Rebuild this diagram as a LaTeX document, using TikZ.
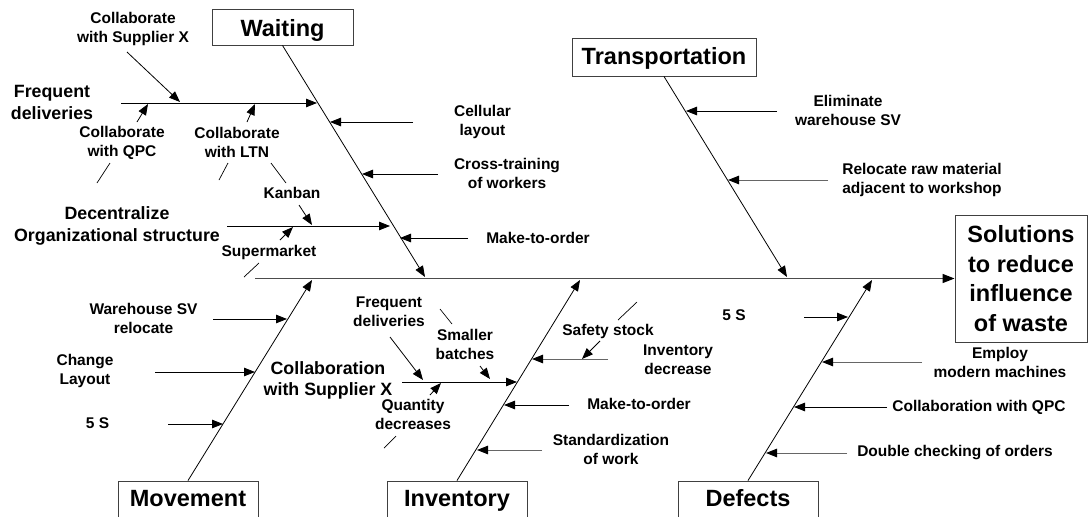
\documentclass[tikz,border=0pt]{standalone}
\usepackage{fontspec}
\setmainfont{Liberation Sans}
\usetikzlibrary{arrows.meta}
\tikzset{
  lbl/.style={font=\fontsize{15.5}{19}\selectfont\bfseries, align=center, inner sep=0pt},
  big/.style={font=\fontsize{17.8}{21.5}\selectfont\bfseries, align=center, inner sep=0pt},
  ttlbase/.style={draw=black!75, line width=0.9pt, fill=white, font=\fontsize{23.5}{29.5}\selectfont\bfseries, align=center, inner sep=0pt},
  ttl/.style={ttlbase, text height=17pt, text depth=5pt},
  bone/.style={draw=black, line width=0.8pt, -{Triangle[length=11pt,width=8.5pt]}},
  spine/.style={draw=black!70, line width=1.4pt, -{Triangle[length=12pt,width=9pt,black]}},
  arr/.style={draw=black, line width=0.8pt, -{Triangle[length=11pt,width=8.5pt]}},
  garr/.style={draw=black!60, line width=1pt, -{Triangle[length=11pt,width=8.5pt,black]}},
  stray/.style={draw=black, line width=0.7pt},
}
\begin{document}
\begin{tikzpicture}[x=1pt,y=-1pt]
\clip (0,0) rectangle (1088,517);
\fill[white] (0,0) rectangle (1088,517);

% ---- title boxes ----
\node[ttl, text height=19.5pt, text depth=0.5pt, minimum width=141pt, minimum height=36pt] (waiting) at (282.5,27) {Waiting};
\node[ttl, text height=17.5pt, text depth=3.5pt, minimum width=184pt, minimum height=38pt] (transp) at (664,57) {Transportation};
\node[ttl, minimum width=140pt, minimum height=38pt] (movement) at (188,500) {Movement};
\node[ttl, minimum width=140pt, minimum height=38pt] (inventory) at (457,500) {Inventory};
\node[ttl, minimum width=140pt, minimum height=38pt] (defects) at (748,500) {Defects};
\node[ttlbase, minimum width=132pt, minimum height=127pt] (sol) at (1021,278.5) {Solutions\\to reduce\\influence\\of waste};

% ---- spine ----
\coordinate (sp0) at (255,278.5);
\draw[spine] (sp0) -- (sol.west);

% ---- main bones ----
\coordinate (wtip) at (425,277);
\coordinate (ttip) at (787,277);
\coordinate (mtip) at (312,280);
\coordinate (itip) at (580,280);
\coordinate (dtip) at (872,280);
\draw[bone] (waiting.south) -- (wtip);
\draw[bone] (transp.south) -- (ttip);
\draw[bone] (movement.north) -- (mtip);
\draw[bone] (inventory.north) -- (itip);
\draw[bone] (defects.north) -- (dtip);

% ---- Waiting: labels ----
\node[lbl] (cwsx) at (133,28.5) {Collaborate\\with Supplier X};
\node[big] (fdel) at (52,102.5) {Frequent\\deliveries};
\node[lbl] (cqpc) at (122,142.5) {Collaborate\\with QPC};
\node[lbl] (cltn) at (237,142.5) {Collaborate\\with LTN};
\node[lbl] (kanban) at (292,193) {Kanban};
\node[big] (decen) at (117,226) {Decentralize\\Organizational structure};
\node[lbl] (superm) at (269,252) {Supermarket};
\node[lbl] (cell) at (482.5,122) {Cellular\\layout};
\node[lbl] (cross) at (507,173) {Cross-training\\of workers};
\node[lbl] (mto1) at (538,238) {Make-to-order};

% Waiting: sub-bone Frequent deliveries
\coordinate (fd0) at (121,103);
\coordinate (fd1) at (317,103);
\draw[arr] (fd0) -- (fd1);
\coordinate (a2) at (127,52);   \coordinate (b2) at (180,102);
\draw[arr] (a2) -- (b2);
\coordinate (a3) at (137,122);  \coordinate (b3) at (148,104);
\draw[arr] (a3) -- (b3);
\coordinate (a4) at (247,122);  \coordinate (b4) at (255,104);
\draw[arr] (a4) -- (b4);
\coordinate (s1a) at (97,183);  \coordinate (s1b) at (110,163);
\draw[stray] (s1a) -- (s1b);
\coordinate (s2a) at (219,180); \coordinate (s2b) at (228,163);
\draw[stray] (s2a) -- (s2b);
\coordinate (s3a) at (271,163); \coordinate (s3b) at (286,183);
\draw[stray] (s3a) -- (s3b);

% Waiting: sub-bone Decentralize
\coordinate (dc0) at (227,226);
\coordinate (dc1) at (390,226);
\draw[arr] (dc0) -- (dc1);
\coordinate (a8) at (299,205);  \coordinate (b8) at (312,225);
\draw[arr] (a8) -- (b8);
\coordinate (a10) at (280,240); \coordinate (b10) at (293,227);
\draw[arr] (a10) -- (b10);
\coordinate (s4a) at (244,277); \coordinate (s4b) at (259,263);
\draw[stray] (s4a) -- (s4b);

% Waiting: direct causes
\coordinate (a12) at (413,122); \coordinate (b12) at (330,122);
\draw[arr] (a12) -- (b12);
\coordinate (a13) at (438,174); \coordinate (b13) at (362,174);
\draw[arr] (a13) -- (b13);
\coordinate (a14) at (468,238); \coordinate (b14) at (400,238);
\draw[arr] (a14) -- (b14);

% ---- Transportation ----
\node[lbl] (elim) at (848,110) {Eliminate\\warehouse SV};
\node[lbl] (reloc) at (922,180) {Relocate raw material\\adjacent to workshop};
\coordinate (a17) at (777,111); \coordinate (b17) at (686,111);
\draw[arr] (a17) -- (b17);
\coordinate (a18) at (828,180); \coordinate (b18) at (728,180);
\draw[garr] (a18) -- (b18);

% ---- Movement ----
\node[lbl] (whsv) at (143.5,318.5) {Warehouse SV\\relocate};
\node[lbl] (chl) at (85,370.5) {Change\\Layout};
\node[lbl] (fives1) at (97.5,423) {5 S};
\coordinate (a21) at (213,319); \coordinate (b21) at (287,319);
\draw[arr] (a21) -- (b21);
\coordinate (a22) at (155,372); \coordinate (b22) at (255,372);
\draw[arr] (a22) -- (b22);
\coordinate (a23) at (168,424); \coordinate (b23) at (223,424);
\draw[arr] (a23) -- (b23);

% ---- Inventory ----
\node[big] (cwsx2) at (328,380.5) {Collaboration\\with Supplier X};
\node[lbl] (fdel2) at (389,312) {Frequent\\deliveries};
\node[lbl] (smb) at (465,344.5) {Smaller\\batches};
\node[lbl] (qty) at (413,414) {Quantity\\decreases};
\node[lbl] (safety) at (608,331) {Safety stock};
\node[lbl] (invd) at (678,359.5) {Inventory\\decrease};
\node[lbl] (mto2) at (639,404) {Make-to-order};
\node[lbl] (stdw) at (611,449) {Standardization\\of work};

\coordinate (cs0) at (402,382); \coordinate (cs1) at (517,382);
\draw[arr] (cs0) -- (cs1);
\coordinate (a26) at (390,337); \coordinate (b26) at (423,380);
\draw[arr] (a26) -- (b26);
\coordinate (a27) at (480,366); \coordinate (b27) at (490,379);
\draw[arr] (a27) -- (b27);
\coordinate (s5a) at (440,309); \coordinate (s5b) at (452,324);
\draw[stray] (s5a) -- (s5b);
\coordinate (a29) at (430,395); \coordinate (b29) at (441,383);
\draw[arr] (a29) -- (b29);
\coordinate (s6a) at (384,448); \coordinate (s6b) at (396,436);
\draw[stray] (s6a) -- (s6b);
\coordinate (a31) at (608,359); \coordinate (b31) at (532,359);
\draw[garr] (a31) -- (b31);
\coordinate (a32) at (600,341); \coordinate (b32) at (582,359);
\draw[arr] (a32) -- (b32);
\coordinate (s7a) at (618,320); \coordinate (s7b) at (637,302);
\draw[stray] (s7a) -- (s7b);
\coordinate (a34) at (569,405); \coordinate (b34) at (504,405);
\draw[arr] (a34) -- (b34);
\coordinate (a35) at (542,450); \coordinate (b35) at (477,450);
\draw[garr] (a35) -- (b35);

% ---- Defects ----
\node[lbl] (fives2) at (734,315) {5 S};
\node[lbl] (employ) at (1000,362) {Employ\\modern machines};
\node[lbl] (cqpc2) at (979,407) {Collaboration with QPC};
\node[lbl] (dbl) at (955,453) {Double checking of orders};
\coordinate (a37) at (804,317); \coordinate (b37) at (848,317);
\draw[arr] (a37) -- (b37);
\coordinate (a38) at (922,362); \coordinate (b38) at (822,362);
\draw[garr] (a38) -- (b38);
\coordinate (a39) at (887,407); \coordinate (b39) at (794,407);
\draw[arr] (a39) -- (b39);
\coordinate (a40) at (847,453); \coordinate (b40) at (766,453);
\draw[garr] (a40) -- (b40);
\end{tikzpicture}
\end{document}
